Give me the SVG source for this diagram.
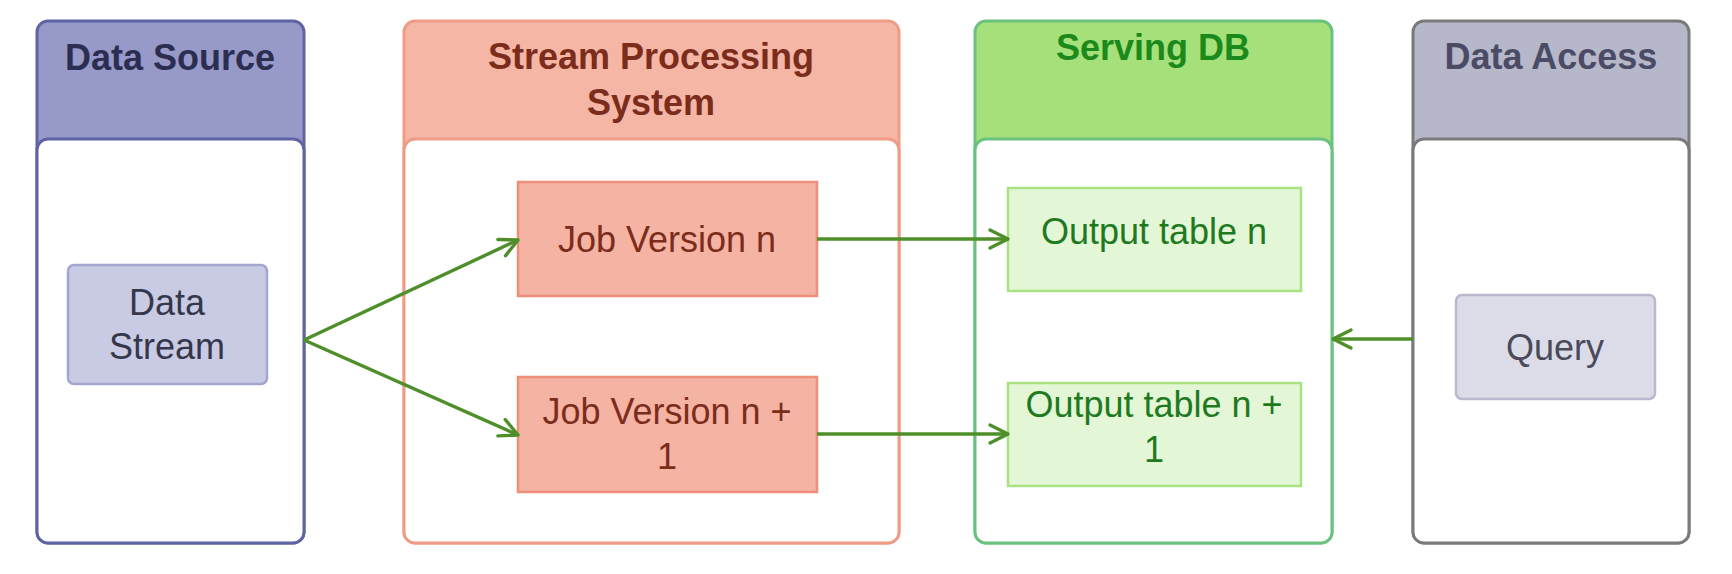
<svg xmlns="http://www.w3.org/2000/svg" width="1732" height="574" viewBox="0 0 1732 574">
<defs>
<marker id="arr" markerUnits="userSpaceOnUse" markerWidth="24" markerHeight="24" viewBox="0 0 24 24" refX="21" refY="12" orient="auto">
<path d="M3,3 L21,12 L3,21" fill="none" stroke="#4e8f2a" stroke-width="3.4" stroke-linecap="round" stroke-linejoin="round"/>
</marker>
<style>
text{font-family:"Liberation Sans",Arial,sans-serif;text-anchor:middle}
.t{font-weight:bold;font-size:36px}
.l{font-size:36px}
.edge{fill:none;stroke:#4e8f2a;stroke-width:3.4;marker-end:url(#arr)}
.inner{fill:#ffffff}
</style>
</defs>
<rect width="1732" height="574" fill="#ffffff"/>

<g id="data-source">
<rect x="37" y="21" width="267" height="522" rx="11" fill="#9799c9" stroke="#5f63a5" stroke-width="3"/>
<rect x="37" y="139" width="267" height="404" rx="11" class="inner" stroke="#5f63a5" stroke-width="3"/>
<text x="170" y="70" class="t" fill="#2b2e50">Data Source</text>
</g>
<g id="data-stream">
<rect x="68" y="265" width="199" height="119" rx="6" fill="#c9cbe5" stroke="#a3a6cf" stroke-width="2.5"/>
<text x="167" y="315" class="l" fill="#35374a">Data</text>
<text x="167" y="359" class="l" fill="#35374a">Stream</text>
</g>

<g id="stream-processing">
<rect x="404" y="21" width="495" height="522" rx="11" fill="#f5b6a6" stroke="#ef9c86" stroke-width="3"/>
<rect x="404" y="139" width="495" height="404" rx="11" class="inner" stroke="#ef9c86" stroke-width="3"/>
<text x="651" y="69" class="t" fill="#7b2c1b">Stream Processing</text>
<text x="651" y="115" class="t" fill="#7b2c1b">System</text>
</g>
<g id="job-n">
<rect x="518" y="182" width="299" height="114" fill="#f5b3a3" stroke="#ee8f79" stroke-width="2.5"/>
<text x="667" y="252" class="l" fill="#7b2c1b">Job Version n</text>
</g>
<g id="job-n1">
<rect x="518" y="377" width="299" height="115" fill="#f5b3a3" stroke="#ee8f79" stroke-width="2.5"/>
<text x="667" y="424" class="l" fill="#7b2c1b">Job Version n +</text>
<text x="667" y="469" class="l" fill="#7b2c1b">1</text>
</g>

<g id="serving-db">
<rect x="975" y="21" width="357" height="522" rx="11" fill="#a6e07a" stroke="#6bc17e" stroke-width="3"/>
<rect x="975" y="139" width="357" height="404" rx="11" class="inner" stroke="#6bc17e" stroke-width="3"/>
<text x="1153" y="60" class="t" fill="#1b8a1b">Serving DB</text>
</g>
<g id="output-n">
<rect x="1008" y="188" width="293" height="103" fill="#e3f6d6" stroke="#a8e283" stroke-width="2.5"/>
<text x="1154" y="244" class="l" fill="#1f7a1f">Output table n</text>
</g>
<g id="output-n1">
<rect x="1008" y="383" width="293" height="103" fill="#e3f6d6" stroke="#a8e283" stroke-width="2.5"/>
<text x="1154" y="417" class="l" fill="#1f7a1f">Output table n +</text>
<text x="1154" y="462" class="l" fill="#1f7a1f">1</text>
</g>

<g id="data-access">
<rect x="1413" y="21" width="276" height="522" rx="11" fill="#b7b7ca" stroke="#7a7a7a" stroke-width="3"/>
<rect x="1413" y="139" width="276" height="404" rx="11" class="inner" stroke="#7a7a7a" stroke-width="3"/>
<text x="1551" y="69" class="t" fill="#4a4c66">Data Access</text>
</g>
<g id="query">
<rect x="1456" y="295" width="199" height="104" rx="6" fill="#dcdce9" stroke="#b8b8cf" stroke-width="2.5"/>
<text x="1555" y="360" class="l" fill="#4a4a5a">Query</text>
</g>

<g id="connectors">
<path class="edge" d="M304,340 L518,240"/>
<path class="edge" d="M304,340 L518,435"/>
<path class="edge" d="M817,239 L1008,239"/>
<path class="edge" d="M817,434 L1008,434"/>
<path class="edge" d="M1413,339 L1333,339"/>
</g>
</svg>
